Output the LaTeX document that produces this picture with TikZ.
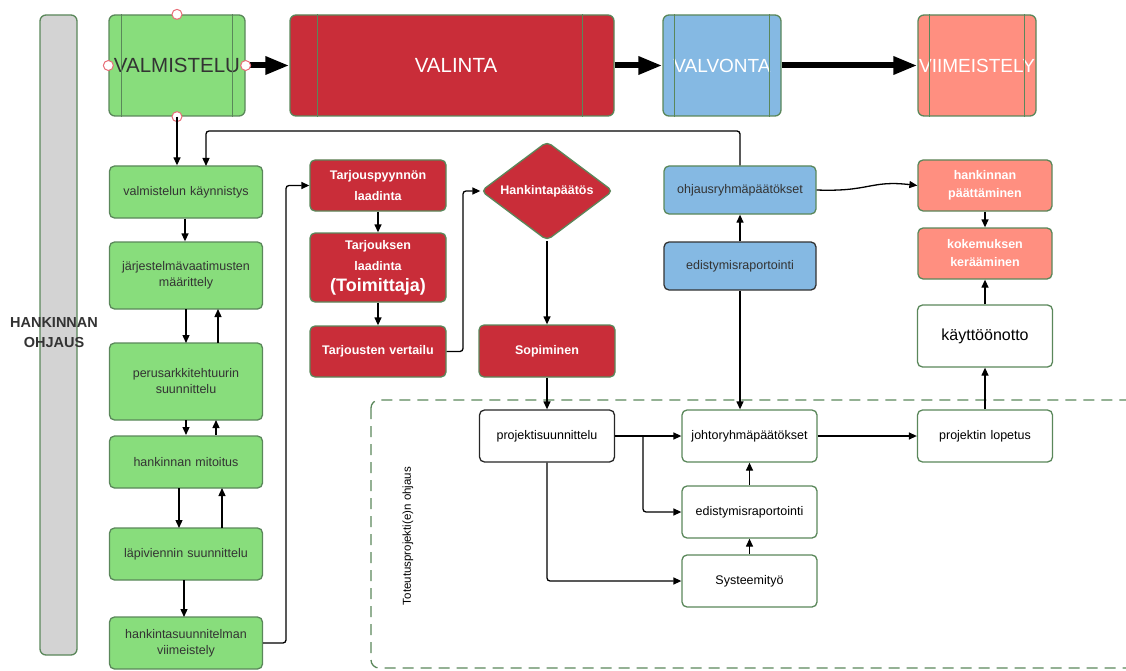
\documentclass[tikz,border=0pt]{standalone}
\usepackage{fontspec}
\setmainfont{Liberation Sans}
\usetikzlibrary{positioning}
\usetikzlibrary{calc}
\usetikzlibrary{shapes.geometric}
\usetikzlibrary{arrows.meta}
\definecolor{phasegreen}{RGB}{136,221,124}
\definecolor{phasered}{RGB}{201,45,57}
\definecolor{phaseblue}{RGB}{133,185,227}
\definecolor{phasesalmon}{RGB}{255,143,128}
\definecolor{barGray}{RGB}{211,211,211}
\definecolor{edgeGreen}{RGB}{90,135,90}
\definecolor{handleRed}{RGB}{232,110,120}
\definecolor{darkText}{RGB}{51,51,51}

\begin{document}
\begin{tikzpicture}[
	x=1pt,y=-1pt,
	font=\fontsize{12.5}{16}\selectfont,
	box/.style={draw=edgeGreen,line width=1.3pt,rounded corners=5pt,inner sep=1pt,align=center,
		minimum width=153,minimum height=52,text width=150},
	gbox/.style={box,fill=phasegreen,text=darkText},
	rbox/.style={box,fill=phasered,text=white,font=\fontsize{12.5}{21}\selectfont\bfseries,
		minimum width=136,text width=134},
	bbox/.style={box,fill=phaseblue,text=darkText,minimum width=151,minimum height=48},
	sbox/.style={box,fill=phasesalmon,text=white,font=\fontsize{12.5}{18}\selectfont\bfseries,
		minimum width=134,text width=132},
	wbox/.style={box,fill=white,text=black,minimum width=135,text width=133},
	phase/.style={draw=edgeGreen,line width=1.3pt,rounded corners=6pt,minimum height=101,
		font=\fontsize{20.5}{24}\selectfont,inner sep=0pt,align=center},
	arr/.style={-{Triangle[length=8pt,width=7pt]},line width=1.3pt,rounded corners=3pt},
	bigarr/.style={-{Triangle[length=24pt,width=17pt]},line width=6pt},
	handle/.style={circle,draw=handleRed,fill=white,line width=1pt,minimum size=10,inner sep=0pt}
]

	% page
	\useasboundingbox (0,0) rectangle (1126,671);

	% definitions
	\def\gx{186}
	\def\rx{378}
	\def\dx{547}
	\def\bx{740}
	\def\sx{985}

	% steering bar
	\node[draw=edgeGreen,fill=barGray,line width=1.3pt,rounded corners=6pt,minimum width=37,minimum height=640,inner sep=0pt]
		(bar) at (58.5,335) {};
	\node[font=\fontsize{14.5}{20}\selectfont\bfseries,text=darkText,align=center] (barlabel) at (54,333)
		{HANKINNAN\\OHJAUS};

	% phases
	\node[phase,fill=phasegreen,minimum width=136,text width=136,text=darkText] (valm) at (177,65.5) {VALMISTELU};
	\node[phase,fill=phasered,minimum width=324,text width=324,text=white] (vali) at (452,65.5) {\hspace*{8pt}VALINTA};
	\node[phase,fill=phaseblue,minimum width=118,text width=118,text=white,font=\fontsize{19}{22}\selectfont]
		(valv) at (722,65.5) {VALVONTA};
	\node[phase,fill=phasesalmon,minimum width=118,text width=118,text=white,font=\fontsize{19}{22}\selectfont]
		(viim) at (977,65.5) {VIIMEISTELY};
	\foreach \n/\d in {valm/13,vali/28,valv/12,viim/12}{
		\draw[edgeGreen,line width=1pt] ([xshift=\d]\n.north west) -- ([xshift=\d]\n.south west);
	}
	\foreach \n/\d in {valm/13,vali/32,valv/12,viim/12}{
		\draw[edgeGreen,line width=1pt] ([xshift=-\d]\n.north east) -- ([xshift=-\d]\n.south east);
	}
	\draw[bigarr] (valm) -- (vali);
	\draw[bigarr] (vali) -- (valv);
	\draw[bigarr] (valv) -- (viim);

	% selection handles
	\foreach \a in {north,south,east,west}{
		\node[handle] (h\a) at (valm.\a) {};
	}

	% preparation column
	\node[gbox] (kayn) at (\gx,192) {valmistelun käynnistys};
	\node[gbox,minimum height=67] (jarj) at (\gx,275.5) {järjestelmävaatimusten\\määrittely};
	\node[gbox,minimum height=77] (perus) at (\gx,381.5) {perusarkkitehtuurin\\suunnittelu};
	\node[gbox] (mitoi) at (\gx,462) {hankinnan mitoitus};
	\node[gbox] (lapi) at (\gx,554) {läpiviennin suunnittelu};
	\node[gbox] (hsuun) at (\gx,643) {hankintasuunnitelman\\viimeistely};

	% selection column
	\node[rbox,minimum height=51] (tpyyn) at (\rx,185.5) {Tarjouspyynnön\\laadinta};
	\node[rbox,minimum height=69,font=\fontsize{12.5}{21}\selectfont\bfseries] (tlaad) at (\rx,267.5)
		{Tarjouksen\\laadinta\\{\fontsize{18}{22}\selectfont(Toimittaja)}};
	\node[rbox,minimum height=51] (tvert) at (\rx,351.5) {Tarjousten vertailu};
	\node[diamond,aspect=1.33,draw=edgeGreen,line width=1.3pt,fill=phasered,rounded corners=5pt,text=white,
		font=\fontsize{12.5}{15}\selectfont\bfseries,minimum width=132,minimum height=99,inner sep=0pt]
		(hpaat) at (\dx,191) {Hankintapäätös};
	\node[rbox,minimum height=52] (sopi) at (\dx,351) {Sopiminen};

	% monitoring
	\node[bbox] (ohjr) at (\bx,190) {ohjausryhmäpäätökset};
	\node[bbox,draw=black!80] (edis1) at (\bx,266) {edistymisraportointi};

	% finishing
	\node[sbox,minimum height=51] (hpaa) at (\sx,185.5) {hankinnan\\päättäminen};
	\node[sbox,minimum height=51] (kokem) at (\sx,253.5) {kokemuksen\\kerääminen};
	\node[wbox,font=\fontsize{16}{18}\selectfont,minimum height=62,minimum width=134] (kaytt) at (\sx,336) {käyttöönotto};

	% project steering
	\draw[edgeGreen,line width=1.3pt,dash pattern=on 11pt off 7pt,rounded corners=8pt] (371,400) rectangle (1140,668);
	\node[rotate=90,font=\fontsize{11.5}{13}\selectfont] (toteu) at (408,536) {Toteutusprojekti(e)n ohjaus};
	\node[wbox,draw=black!85] (prsuu) at (\dx,436) {projektisuunnittelu};
	\node[wbox] (johto) at (749.5,436) {johtoryhmäpäätökset};
	\node[wbox,minimum width=134] (prlop) at (\sx,436) {projektin lopetus};
	\node[wbox] (edis2) at (749.5,512) {edistymisraportointi};
	\node[wbox] (syste) at (749.5,581) {Systeemityö};

	% connectors, preparation
	\draw[arr] (valm.south) -- (valm.south |- kayn.north);
	\draw[arr] (ohjr.north) |- (206,131) -- (206,166);
	\draw[arr] ([xshift=-1]kayn.south) -- ([xshift=-1]jarj.north);
	\draw[arr] (\gx,309) -- (\gx,343);
	\draw[arr] (218,343) -- (218,309);
	\draw[arr] (\gx,420) -- (\gx,435);
	\draw[arr] (216,435) -- (216,420);
	\draw[arr] (179,488) -- (179,528);
	\draw[arr] (222,528) -- (222,488);
	\draw[arr] (184,580) -- (184,617);
	\draw[arr] (hsuun.east) -| (286,185.5) -- (tpyyn.west);

	% connectors, selection
	\draw[arr] (tpyyn) -- (tlaad);
	\draw[arr] (tlaad) -- (tvert);
	\draw[arr] (tvert.east) -| (463,191) -- (hpaat.west);
	\draw[arr] (hpaat.south) -- (sopi.north);
	\draw[arr] (sopi.south) -- (prsuu.north);

	% connectors, monitoring and finishing
	\draw[arr] (edis1) -- (ohjr);
	\draw[arr] (edis1.south) -- (edis1.south |- johto.north);
	\draw[arr] (ohjr.east) .. controls (870,192) and (870,180) .. (hpaa.west);
	\draw[arr] (hpaa) -- (kokem);
	\draw[arr] (kaytt) -- (kokem);
	\draw[arr] (prlop.north) -- (kaytt.south);

	% connectors, project
	\draw[arr] (prsuu.east) -- (johto.west);
	\draw[arr] (643,436) |- (edis2.west);
	\draw[arr] (prsuu.south) |- (syste.west);
	\draw[arr] (edis2) -- (johto);
	\draw[arr] (syste) -- (edis2);
	\draw[arr] (johto) -- (prlop);

\end{tikzpicture}
\end{document}
